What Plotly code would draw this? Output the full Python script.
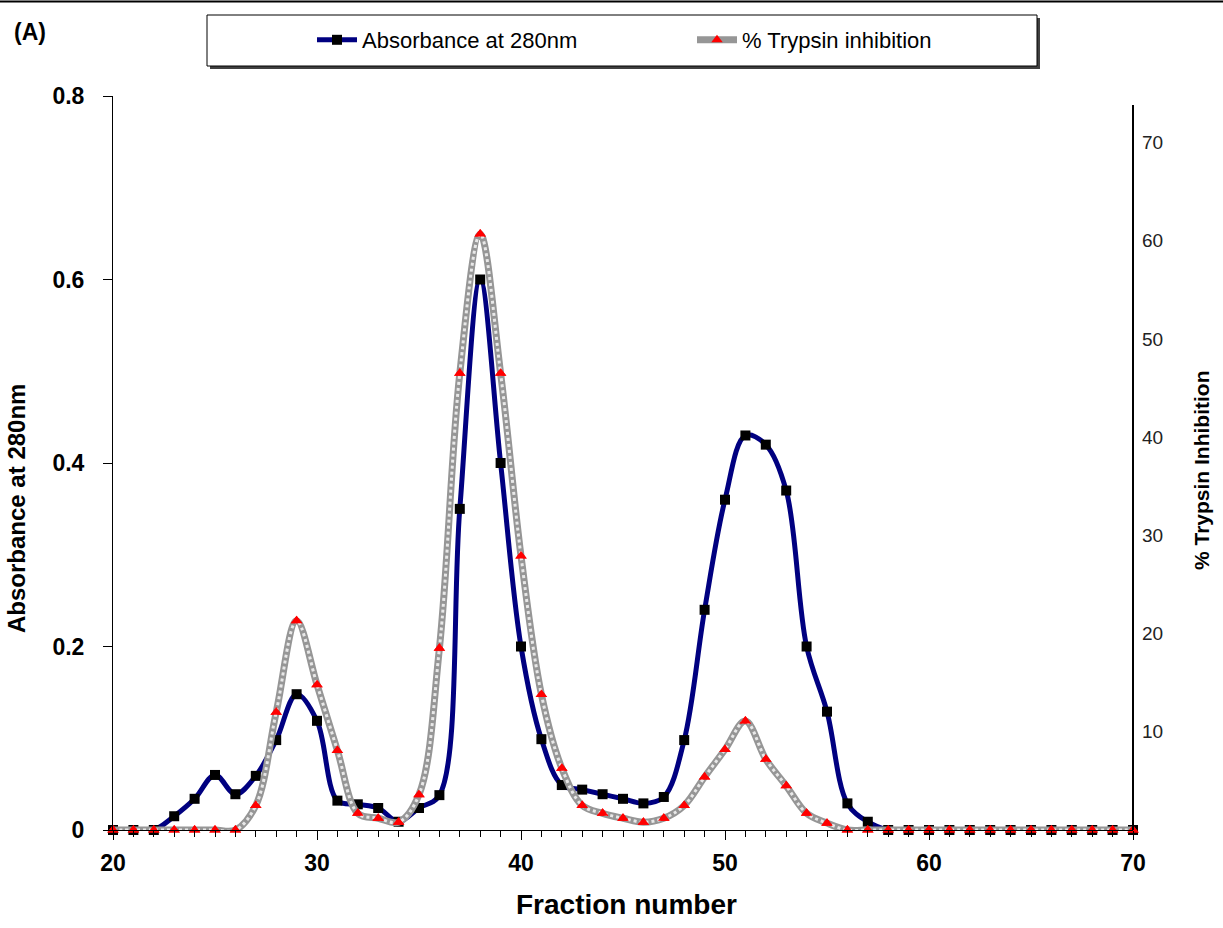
import plotly.graph_objects as go

fractions = list(range(20, 71))
absorbance = [0, 0, 0, 0.015, 0.034, 0.06, 0.039, 0.059, 0.098, 0.148,
              0.119, 0.032, 0.028, 0.024, 0.009, 0.024, 0.038, 0.35, 0.6, 0.4,
              0.2, 0.099, 0.049, 0.044, 0.039, 0.034, 0.029, 0.036, 0.098, 0.24,
              0.36, 0.43, 0.42, 0.37, 0.2, 0.129, 0.029, 0.009, 0, 0,
              0, 0, 0, 0, 0, 0, 0, 0, 0, 0, 0]
trypsin = [0, 0, 0, 0, 0, 0, 0, 2.5, 12, 21.3,
           14.8, 8.1, 1.7, 1.2, 0.8, 3.6, 18.5, 46.5, 60.7, 46.5,
           27.9, 13.8, 6.3, 2.5, 1.7, 1.2, 0.8, 1.2, 2.5, 5.4,
           8.2, 11.1, 7.2, 4.5, 1.7, 0.7, 0, 0, 0, 0,
           0, 0, 0, 0, 0, 0, 0, 0, 0, 0, 0]

left_ticks = [0, 0.2, 0.4, 0.6, 0.8]
left_labels = ["0", "0.2", "0.4", "0.6", "0.8"]
right_ticks = [10, 20, 30, 40, 50, 60, 70]
x_ticks = [20, 30, 40, 50, 60, 70]

FONT = "Arial, Liberation Sans, sans-serif"
W, H = 1223, 928
L, R, T, B = 113, 1133, 96, 830


def px(x):
    return (x - L) / (R - L)


def py(y):
    return (B - y) / (B - T)


fig = go.Figure()

fig.add_trace(go.Scatter(
    x=fractions, y=absorbance, name="Absorbance at 280nm",
    mode="lines+markers",
    line=dict(color="#000080", width=5, shape="spline", smoothing=1),
    marker=dict(symbol="square", size=10, color="black"),
    cliponaxis=False, yaxis="y"))

fig.add_trace(go.Scatter(
    x=fractions, y=trypsin, name="% Trypsin inhibition",
    mode="lines+markers",
    line=dict(color="#969696", width=7, shape="spline", smoothing=1),
    marker=dict(symbol="triangle-up", size=10, color="#ff0000"),
    cliponaxis=False, yaxis="y2"))
fig.add_trace(go.Scatter(
    x=fractions, y=trypsin, showlegend=False, hoverinfo="skip",
    mode="lines",
    line=dict(color="#e8e8e8", width=3, shape="spline", smoothing=1, dash="dot"),
    cliponaxis=False, yaxis="y2"))
fig.add_trace(go.Scatter(
    x=fractions, y=trypsin, showlegend=False,
    mode="markers",
    marker=dict(symbol="triangle-up", size=10, color="#ff0000"),
    cliponaxis=False, yaxis="y2"))

shapes = [
    dict(type="line", xref="paper", yref="paper", x0=px(-5), x1=px(W + 5),
         y0=py(1.5), y1=py(1.5), line=dict(color="black", width=2)),
    dict(type="rect", xref="paper", yref="paper", x0=px(210), x1=px(1040),
         y0=py(69), y1=py(18), fillcolor="#404040", line=dict(width=0), layer="above"),
    dict(type="rect", xref="paper", yref="paper", x0=px(207), x1=px(1037),
         y0=py(66), y1=py(15), fillcolor="white", line=dict(color="black", width=1), layer="above"),
    dict(type="line", xref="paper", yref="paper", x0=1, x1=1,
         y0=0, y1=py(105), line=dict(color="black", width=2)),
]

annotations = [
    dict(text="<b>(A)</b>", x=px(12), y=py(32), xref="paper", yref="paper",
         xanchor="left", yanchor="middle", showarrow=False,
         font=dict(family=FONT, size=23, color="black")),
    dict(text="<b>Absorbance at 280nm</b>", x=px(17), y=py(509), xref="paper", yref="paper",
         xanchor="center", yanchor="middle", textangle=-90, showarrow=False,
         font=dict(family=FONT, size=24, color="black")),
    dict(text="<b>% Trypsin Inhibition</b>", x=px(1201), y=py(470), xref="paper", yref="paper",
         xanchor="center", yanchor="middle", textangle=-90, showarrow=False,
         font=dict(family=FONT, size=21, color="black")),
    dict(text="<b>Fraction number</b>", x=px(626), y=py(905), xref="paper", yref="paper",
         xanchor="center", yanchor="middle", showarrow=False,
         font=dict(family=FONT, size=28, color="black")),
]

fig.update_layout(
    width=W, height=H,
    margin=dict(l=L, r=W - R, t=T, b=H - B, pad=0),
    paper_bgcolor="white", plot_bgcolor="white",
    font=dict(family=FONT, color="black"),
    showlegend=True,
    legend=dict(orientation="h", x=px(312), y=py(40), xanchor="left", yanchor="middle",
                bgcolor="rgba(0,0,0,0)", borderwidth=0,
                font=dict(family=FONT, size=22, color="black"),
                entrywidth=325, entrywidthmode="pixels", itemwidth=40),
    xaxis=dict(range=[20, 70], showgrid=False, zeroline=False,
               showline=True, linecolor="black", linewidth=1,
               tickmode="array", tickvals=x_ticks,
               ticks="outside", ticklen=9, tickcolor="black", tickwidth=1,
               minor=dict(dtick=1, ticks="outside", ticklen=6, tickcolor="black", tickwidth=1),
               ticklabelstandoff=3,
               tickfont=dict(family=FONT, size=23, color="black", weight="bold")),
    yaxis=dict(range=[0, 0.8], showgrid=False, zeroline=False,
               showline=True, linecolor="black", linewidth=1,
               tickmode="array", tickvals=left_ticks, ticktext=left_labels,
               ticks="outside", ticklen=9, tickcolor="black", tickwidth=1,
               ticklabelstandoff=14,
               tickfont=dict(family=FONT, size=23, color="black", weight="bold")),
    yaxis2=dict(range=[0, (B - T) / 9.82], overlaying="y", side="right",
                showgrid=False, zeroline=False, showline=False,
                tickmode="array", tickvals=right_ticks,
                ticks="", ticklabelstandoff=8,
                tickfont=dict(family=FONT, size=19, color="#222222")),
    shapes=shapes,
    annotations=annotations,
)

fig.write_html(
    "out.html",
    config={"displayModeBar": False},
    post_script="document.body.style.margin='0';document.body.style.overflow='hidden';",
)
